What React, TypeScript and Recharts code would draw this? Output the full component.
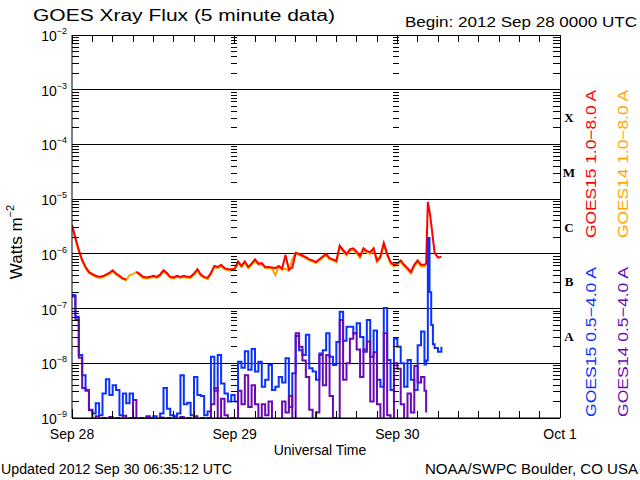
import React from 'react';
import { LineChart, Line, XAxis, YAxis, ReferenceLine } from 'recharts';

// hours after 2012 Sep 28 00:00 UTC
const hours = [
  0, 0.5, 1, 1.5, 2, 2.5, 3, 3.5, 4, 4.5,
  5, 5.5, 6, 6.5, 7, 7.5, 8, 8.5, 9, 9.5,
  10, 10.5, 11, 11.5, 12, 12.5, 13, 13.5, 14, 14.5,
  15, 15.5, 16, 16.5, 17, 17.5, 18, 18.5, 19, 19.5,
  20, 20.5, 21, 21.5, 22, 22.5, 23, 23.5, 24, 24.5,
  25, 25.5, 26, 26.5, 27, 27.5, 28, 28.5, 29, 29.5,
  30, 30.5, 31, 31.5, 32, 32.5, 33, 33.5, 34, 34.5,
  35, 35.5, 36, 36.5, 37, 37.5, 38, 38.5, 39, 39.5,
  40, 40.5, 41, 41.5, 42, 42.5, 43, 43.5, 44, 44.5,
  45, 45.5, 46, 46.5, 47, 47.5, 48, 48.5, 49, 49.5,
  50, 50.5, 51, 51.5, 52, 52.25, 52.5, 52.75, 53, 53.25,
  53.5, 54, 54.5,
];

// log10 of flux, W m^-2
const goes15Long = [
  -5.47, -5.71, -5.93, -6.11, -6.24, -6.33, -6.37, -6.40, -6.42, -6.41,
  -6.38, -6.35, -6.30, -6.36, -6.40, -6.45, -6.47, null, null, -6.33,
  -6.37, -6.42, -6.43, -6.42, -6.40, -6.42, -6.38, -6.30, -6.35, -6.42,
  -6.43, -6.40, -6.42, -6.40, -6.42, -6.42, -6.36, -6.28, -6.38, -6.42,
  -6.44, -6.35, -6.22, -6.24, -6.20, -6.26, -6.28, -6.28, -6.27, -6.14,
  -6.22, -6.14, -6.24, -6.18, -6.10, -6.18, -6.17, -6.24, -6.24, -6.25,
  -6.26, -6.22, -6.27, -6.02, -6.29, -6.25, -5.98, -6.00, -6.03, -6.06,
  -6.10, -6.12, -6.15, -6.10, -6.05, -6.00, -6.08, -6.10, -6.13, -5.85,
  -5.93, -6.00, -5.92, -5.90, -5.96, -6.04, -5.90, -5.95, -5.97, -5.90,
  -6.12, -6.05, -5.80, -6.00, -6.15, -6.20, -6.17, -6.12, -6.20, -6.26,
  -6.33, -6.20, -6.12, -6.20, -6.20, -6.18, -5.05, -5.22, -5.45, -5.72,
  -5.98, -6.07, -6.05,
];

const goes14Long = [
  -5.49, -5.73, -5.95, -6.13, -6.26, -6.35, -6.39, -6.42, -6.44, -6.43,
  -6.40, -6.37, -6.32, -6.38, -6.42, -6.46, -6.48, -6.39, -6.37, -6.33,
  -6.39, -6.44, -6.45, -6.44, -6.42, -6.44, -6.40, -6.32, -6.37, -6.44,
  -6.45, -6.42, -6.44, -6.42, -6.44, -6.44, -6.38, -6.31, -6.40, -6.44,
  -6.46, -6.37, -6.24, -6.26, -6.23, -6.28, -6.30, -6.30, -6.29, -6.17,
  -6.24, -6.16, -6.26, -6.20, -6.13, -6.20, -6.19, -6.26, -6.26, -6.27,
  -6.39, -6.24, -6.29, -6.27, -6.31, -6.10, -5.99, -6.02, -6.05, -6.08,
  -6.12, -6.14, -6.17, -6.12, -6.07, -6.02, -6.10, -6.12, -6.15, -5.88,
  -5.96, -6.03, -5.95, -5.93, -5.99, -6.07, -5.93, -5.98, -6.00, -5.93,
  -6.15, -6.08, -5.83, -6.03, -6.18, -6.23, -6.20, -6.15, -6.23, -6.29,
  -6.36, -6.23, -6.15, -6.23, -6.23, -6.22, null, null, null, null,
  null, null, null,
];

const goes15Short = [
  -6.75, -7.15, -7.85, -8.22, -8.49, -8.85, -8.92, -8.73, -8.95, -8.55,
  -8.29, -8.58, -8.40, -8.49, -8.95, -8.55, -8.73, -8.55, -9.00, -9.02,
  -9.00, -9.02, -8.97, -9.00, -8.97, -9.02, -8.92, -8.45, -8.83, -8.95,
  -8.97, -8.92, -8.22, -8.75, -8.72, -8.95, -8.25, -8.58, -8.60, -8.95,
  -8.88, -7.88, -8.50, -7.85, -8.37, -8.55, -8.70, -8.58, -8.70, -7.97,
  -8.08, -7.78, -8.12, -7.74, -8.15, -7.97, -8.43, -8.30, -8.03, -8.49,
  -8.43, -8.25, -8.35, -7.91, -8.80, -8.18, -7.50, -7.76, -7.85, -7.48,
  -8.09, -8.15, -8.30, -7.82, -7.76, -7.45, -7.88, -8.03, -7.61, -7.06,
  -7.59, -7.33, -7.33, -7.45, -7.27, -7.52, -7.79, -7.21, -7.88, -7.40,
  -8.30, -8.43, -6.99, -7.94, -8.49, -7.55, -7.70, -8.00, -8.43, -7.94,
  -8.30, -8.49, -7.67, -7.42, -8.02, -7.95, -5.71, -6.70, -7.30, -7.65,
  -7.72, -7.79, -7.70,
];

const goes14Short = [
  -6.78, -7.20, -7.90, -8.45, -8.50, -8.86, -9.20, -8.97, -9.25, -9.00,
  -9.22, -8.98, -9.25, -9.00, -9.20, -8.96, -9.25, -9.00, -8.67, -9.20,
  -9.00, -9.25, -8.98, -9.20, -9.02, -9.25, -8.99, -9.20, -9.00, -9.25,
  -9.01, -9.20, -8.98, -9.25, -9.00, -9.20, -8.97, -9.25, -9.00, -9.20,
  -9.00, -8.75, -8.45, -9.20, -8.65, -8.95, -9.20, -9.00, -9.20, -8.50,
  -8.75, -8.22, -8.80, -8.40, -8.75, -9.00, -8.75, -8.95, -8.70, -9.30,
  -9.10, -9.30, -8.70, -8.90, -8.60, -9.20, -7.45, -7.70, -7.95, -8.25,
  -8.85, -9.20, -8.90, -7.85, -8.40, -7.85, -8.60, -9.00, -9.20, -7.21,
  -8.30, -8.00, -7.55, -7.45, -7.75, -8.25, -7.75, -7.60, -8.70, -7.80,
  -8.75, -9.30, -7.45, -8.95, -9.30, -8.00, -8.10, -8.75, -9.30, -8.55,
  -8.90, -8.05, -8.35, -8.25, -8.50, -8.90, null, null, null, null,
  null, null, null,
];

const dayTicks = [0, 24, 48, 72];
const dayLabels = ['Sep 28', 'Sep 29', 'Sep 30', 'Oct 1'];
const hourTicks = [0, 3, 6, 9, 12, 15, 18, 21, 24, 27, 30, 33, 36, 39, 42, 45, 48, 51, 54, 57, 60, 63, 66, 69, 72];
const decades = [-9, -8, -7, -6, -5, -4, -3, -2];
const flareClasses = ['A', 'B', 'C', 'M', 'X'];
const classFloor = [-8, -7, -6, -5, -4];

const RED = '#ff0000';
const ORANGE = '#ffa500';
const BLUE = '#0a32ff';
const PURPLE = '#6a0ab4';
const FONT = '"Liberation Sans", "DejaVu Sans", sans-serif';

const PLOT = { left: 72, right: 560, top: 35, bottom: 418 };
const DECADE_PX = (PLOT.bottom - PLOT.top) / 7;

const data = hours.map((h, i) => ({
  h,
  g15l: goes15Long[i],
  g14l: goes14Long[i],
  g15s: goes15Short[i],
  g14s: goes14Short[i],
}));

const yTicks: number[] = [];
decades.forEach((d) => {
  if (d === -2) {
    yTicks.push(d);
    return;
  }
  for (let k = 1; k <= 9; k++) yTicks.push(d + Math.log10(k));
});

const innerDayX = [1, 2].map((i) => PLOT.left + ((PLOT.right - PLOT.left) * i) / 3);

function YTick(props: any) {
  const { x, y, payload } = props;
  const v = payload.value as number;
  const major = Math.abs(v - Math.round(v)) < 1e-6;
  const len = major ? 10 : 7;
  return (
    <g shapeRendering="crispEdges">
      <line x1={x} x2={x + len} y1={y} y2={y} stroke="#000" />
      <line x1={PLOT.right} x2={PLOT.right - len} y1={y} y2={y} stroke="#000" />
      {innerDayX.map((dx) => (
        <line key={dx} x1={dx - 4} x2={dx + 2} y1={y} y2={y} stroke="#000" />
      ))}
      {major && (
        <text x={x - 5} y={y + 6} textAnchor="end" fontFamily={FONT} fontSize={14} fill="#000">
          10
          <tspan dy={-7} fontSize={9}>
            {'\u2212' + Math.abs(Math.round(v))}
          </tspan>
        </text>
      )}
    </g>
  );
}

function XTick(props: any) {
  const { x, payload } = props;
  const v = payload.value as number;
  const di = dayTicks.indexOf(v);
  const len = di >= 0 ? 9 : 7;
  return (
    <g shapeRendering="crispEdges">
      <line x1={x} x2={x} y1={PLOT.bottom} y2={PLOT.bottom - len} stroke="#000" />
      <line x1={x} x2={x} y1={PLOT.top} y2={PLOT.top + len} stroke="#000" />
      {di >= 0 && (
        <text x={x} y={PLOT.bottom + 21} textAnchor="middle" fontFamily={FONT} fontSize={14} fill="#000">
          {dayLabels[di]}
        </text>
      )}
    </g>
  );
}

export default function App() {
  return (
    <div style={{ position: 'absolute', left: 0, top: 0, width: 640, height: 480, background: '#fff' }}>
      <LineChart
        width={640}
        height={480}
        data={data}
        margin={{ top: PLOT.top, right: 640 - PLOT.right, bottom: 0, left: 0 }}
      >
        <XAxis
          dataKey="h"
          type="number"
          domain={[0, 72]}
          ticks={hourTicks}
          interval={0}
          tick={XTick}
          tickLine={false}
          tickSize={0}
          tickMargin={0}
          axisLine={{ stroke: '#000' }}
          height={480 - PLOT.bottom}
          allowDataOverflow
        />
        <YAxis
          type="number"
          domain={[-9, -2]}
          ticks={yTicks}
          interval={0}
          tick={YTick}
          tickLine={false}
          tickSize={0}
          tickMargin={0}
          axisLine={{ stroke: '#000' }}
          width={PLOT.left}
          allowDataOverflow
        />
        {decades.map((d) => (
          <ReferenceLine key={d} y={d} stroke="#000" ifOverflow="visible" shapeRendering="crispEdges" />
        ))}
        <ReferenceLine x={72} stroke="#000" ifOverflow="visible" shapeRendering="crispEdges" />
        <Line type="linear" dataKey="g14l" stroke={ORANGE} strokeWidth={2} dot={false} isAnimationActive={false} />
        <Line type="linear" dataKey="g15l" stroke={RED} strokeWidth={2} dot={false} isAnimationActive={false} />
        <Line type="stepAfter" dataKey="g15s" stroke={BLUE} strokeWidth={2} dot={false} isAnimationActive={false} />
        <Line type="stepAfter" dataKey="g14s" stroke={PURPLE} strokeWidth={2} dot={false} isAnimationActive={false} />
      </LineChart>
      <svg
        width={640}
        height={480}
        style={{ position: 'absolute', left: 0, top: 0, pointerEvents: 'none' }}
        fontFamily={FONT}
      >
        <text x={33} y={21} fontSize={16} textLength={302} lengthAdjust="spacingAndGlyphs">
          GOES Xray Flux (5 minute data)
        </text>
        <text x={405} y={27} fontSize={14} textLength={232} lengthAdjust="spacingAndGlyphs">
          Begin:  2012 Sep 28 0000 UTC
        </text>
        <text transform="translate(22,242) rotate(-90)" textAnchor="middle" fontSize={17}>
          Watts m
          <tspan dy={-8} fontSize={11}>
            {'\u22122'}
          </tspan>
        </text>
        <text x={320} y={455} textAnchor="middle" fontSize={14}>
          Universal Time
        </text>
        <text x={1} y={474} fontSize={14} textLength={231} lengthAdjust="spacingAndGlyphs">
          Updated 2012 Sep 30 06:35:12 UTC
        </text>
        <text x={638} y={474} textAnchor="end" fontSize={14} textLength={213} lengthAdjust="spacingAndGlyphs">
          NOAA/SWPC Boulder, CO USA
        </text>
        {flareClasses.map((c, i) => (
          <text
            key={c}
            x={569}
            y={PLOT.top + (-2 - classFloor[i] - 0.5) * DECADE_PX + 5}
            textAnchor="middle"
            fontFamily='"Liberation Serif", "DejaVu Serif", serif'
            fontWeight="bold"
            fontSize={13}
          >
            {c}
          </text>
        ))}
        <text transform="translate(596,164) rotate(-90)" textAnchor="middle" fontSize={15} fill={RED} textLength={148} lengthAdjust="spacingAndGlyphs">
          GOES15 1.0{'\u2212'}8.0 A
        </text>
        <text transform="translate(628,164) rotate(-90)" textAnchor="middle" fontSize={15} fill={ORANGE} textLength={148} lengthAdjust="spacingAndGlyphs">
          GOES14 1.0{'\u2212'}8.0 A
        </text>
        <text transform="translate(596,342) rotate(-90)" textAnchor="middle" fontSize={15} fill={BLUE} textLength={150} lengthAdjust="spacingAndGlyphs">
          GOES15 0.5{'\u2212'}4.0 A
        </text>
        <text transform="translate(628,342) rotate(-90)" textAnchor="middle" fontSize={15} fill={PURPLE} textLength={150} lengthAdjust="spacingAndGlyphs">
          GOES14 0.5{'\u2212'}4.0 A
        </text>
      </svg>
    </div>
  );
}
